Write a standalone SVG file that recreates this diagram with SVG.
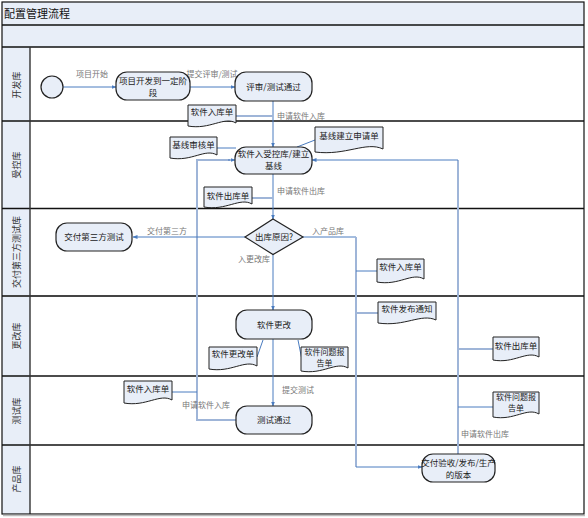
<svg xmlns="http://www.w3.org/2000/svg" width="588" height="518" viewBox="0 0 588 518">
<defs>
<marker id="arr" viewBox="0 0 10 10" refX="9" refY="5" markerWidth="5" markerHeight="5" orient="auto" markerUnits="userSpaceOnUse">
<path d="M0,1 L10,5 L0,9 Z" fill="#4a7cc0"/>
</marker>
<style>
text{font-family:"Noto Sans CJK SC","Liberation Sans",sans-serif;}
.band{fill:#e8eef8;stroke:none;}
.lane{stroke:#111;stroke-width:1.4;fill:none;}
.ln{font-size:9px;fill:#333;}
.node{fill:#e8eef8;stroke:#222;stroke-width:1.2;}
.doc{fill:#e8eef8;stroke:#222;stroke-width:1;}
.nt{font-size:8.5px;fill:#222;text-anchor:middle;}
.nt2{font-size:8px;fill:#222;text-anchor:middle;}
.el{font-size:8px;fill:#777;}
.c{fill:none;stroke:#4a7cc0;stroke-width:1;}
.cl{fill:none;stroke:#9fb5d8;stroke-width:2;}
</style>
</defs>
<rect x="0" y="0" width="588" height="518" fill="#fff"/>
<rect class="band" x="2" y="2" width="582" height="45"/>
<rect class="band" x="2" y="47" width="28" height="467"/>
<g id="frame">
<line class="lane" x1="2" y1="25" x2="584" y2="25"/>
<line class="lane" x1="2" y1="47" x2="584" y2="47"/>
<line class="lane" x1="2" y1="121" x2="584" y2="121"/>
<line class="lane" x1="2" y1="208.5" x2="584" y2="208.5"/>
<line x1="2" y1="296" x2="584" y2="296" stroke="#444" stroke-width="2.2"/>
<line class="lane" x1="2" y1="376" x2="584" y2="376"/>
<line class="lane" x1="2" y1="445" x2="584" y2="445"/>
<line x1="30" y1="47" x2="30" y2="514" stroke="#333" stroke-width="1.4"/>
<rect x="2" y="2" width="582" height="512" fill="none" stroke="#111" stroke-width="1.2"/>
<line x1="3" y1="515.5" x2="585" y2="515.5" stroke="#bbb" stroke-width="1.5"/>
<text x="4" y="18" font-size="11px" fill="#111">配置管理流程</text>
<text class="ln" transform="translate(20,85) rotate(-90)" text-anchor="middle">开发库</text>
<text class="ln" transform="translate(20,165) rotate(-90)" text-anchor="middle">受控库</text>
<text class="ln" transform="translate(20,252) rotate(-90)" text-anchor="middle">交付第三方测试库</text>
<text class="ln" transform="translate(20,336) rotate(-90)" text-anchor="middle">更改库</text>
<text class="ln" transform="translate(20,411) rotate(-90)" text-anchor="middle">测试库</text>
<text class="ln" transform="translate(20,479) rotate(-90)" text-anchor="middle">产品库</text>
</g>
<g id="connectors">
<line class="c" x1="63" y1="87" x2="116" y2="87" marker-end="url(#arr)"/>
<line class="c" x1="190" y1="87" x2="235" y2="87" marker-end="url(#arr)"/>
<line class="c" x1="273" y1="101" x2="273" y2="147" marker-end="url(#arr)"/>
<line class="cl" x1="236" y1="116" x2="273" y2="116"/>
<line class="c" x1="217" y1="148" x2="236" y2="148"/>
<line class="c" x1="297" y1="147" x2="315" y2="140"/>
<polyline class="cl" points="236,420 197,420 197,160 230,160"/>
<line class="c" x1="228" y1="160" x2="235" y2="160" marker-end="url(#arr)"/>
<line class="c" x1="172" y1="392" x2="197" y2="392"/>
<line class="c" x1="273" y1="174" x2="273" y2="219" marker-end="url(#arr)"/>
<line class="cl" x1="252" y1="198" x2="273" y2="198"/>
<line class="c" x1="245" y1="237" x2="133" y2="237" marker-end="url(#arr)"/>
<line class="c" x1="273" y1="254" x2="273" y2="310" marker-end="url(#arr)"/>
<polyline class="c" points="303,237 356,237"/>
<line class="cl" x1="356" y1="237" x2="356" y2="467"/>
<line class="c" x1="356" y1="467" x2="422" y2="467" marker-end="url(#arr)"/>
<line class="c" x1="356" y1="271" x2="377" y2="271"/>
<line class="cl" x1="356" y1="313" x2="378" y2="313"/>
<line class="cl" x1="458" y1="454" x2="458" y2="160"/>
<line class="c" x1="458" y1="160" x2="312" y2="160" marker-end="url(#arr)"/>
<line class="cl" x1="458" y1="349" x2="493" y2="349"/>
<line class="c" x1="458" y1="407" x2="493" y2="407"/>
<line class="c" x1="263" y1="340" x2="257" y2="357"/>
<line class="c" x1="298" y1="340" x2="302" y2="360"/>
<line class="c" x1="273" y1="339" x2="273" y2="406" marker-end="url(#arr)"/>
<text class="el" x="92" y="77" text-anchor="middle">项目开始</text>
<text class="el" x="212" y="77" text-anchor="middle">提交评审/测试</text>
<text class="el" x="277" y="119">申请软件入库</text>
<text class="el" x="277" y="194">申请软件出库</text>
<text class="el" x="167" y="234" text-anchor="middle">交付第三方</text>
<text class="el" x="254" y="262" text-anchor="middle">入更改库</text>
<text class="el" x="328" y="234" text-anchor="middle">入产品库</text>
<text class="el" x="282" y="393">提交测试</text>
<text class="el" x="182" y="408">申请软件入库</text>
<text class="el" x="461" y="437">申请软件出库</text>
</g>
<g id="start"><circle class="node" cx="52" cy="87" r="11"/></g>
<g id="n-dev"><rect class="node" x="116" y="72" width="74" height="28" rx="11"/><text class="nt" x="153" y="84">项目开发到一定阶</text><text class="nt" x="153" y="95.5">段</text></g>
<g id="n-review"><rect class="node" x="235" y="72" width="77" height="29" rx="11"/><text class="nt" x="273.5" y="90">评审/测试通过</text></g>
<g id="n-baseline"><rect class="node" x="235" y="147" width="77" height="27" rx="11"/><text class="nt" x="273.5" y="157">软件入受控库/建立</text><text class="nt" x="273.5" y="169">基线</text></g>
<g id="n-decision"><path class="node" d="M273,219 L303,237 L273,254.5 L245,237 Z"/><text class="nt" x="274" y="240">出库原因?</text></g>
<g id="n-third"><rect class="node" x="56" y="223" width="76" height="28" rx="11"/><text class="nt" x="94" y="240">交付第三方测试</text></g>
<g id="n-change"><rect class="node" x="236" y="310" width="76" height="29" rx="11"/><text class="nt" x="274" y="328">软件更改</text></g>
<g id="n-test"><rect class="node" x="236" y="406" width="76" height="28" rx="11"/><text class="nt" x="274" y="423">测试通过</text></g>
<g id="n-release"><rect class="node" x="422" y="454" width="73" height="28" rx="11"/><text class="nt" x="458.5" y="466">交付验收/发布/生产</text><text class="nt" x="458.5" y="477.5">的版本</text></g>
<g id="d1"><path class="doc" d="M188,105 H236 V123 C224,116 210,130 188,126 Z"/><text class="nt" x="212" y="115">软件入库单</text></g>
<g id="d2"><path class="doc" d="M170,137 H217 V155 C205,148 192,162 170,158 Z"/><text class="nt" x="193.5" y="148">基线审核单</text></g>
<g id="d3"><path class="doc" d="M315,127 H383 V149 C366,141 346,156 315,152 Z"/><text class="nt" x="349" y="139">基线建立申请单</text></g>
<g id="d4"><path class="doc" d="M204,187 H252 V204 C240,197 226,211 204,207 Z"/><text class="nt" x="228" y="199">软件出库单</text></g>
<g id="d5"><path class="doc" d="M377,259 H424 V279 C412,272 399,286 377,282 Z"/><text class="nt" x="400.5" y="270">软件入库单</text></g>
<g id="d6"><path class="doc" d="M378,302 H436 V320 C421,313 405,327 378,323 Z"/><text class="nt" x="407" y="312">软件发布通知</text></g>
<g id="d7"><path class="doc" d="M493,337 H539 V357 C527,350 514,364 493,360 Z"/><text class="nt" x="516" y="349">软件出库单</text></g>
<g id="d8"><path class="doc" d="M493,392 H539 V414 C527,407 514,421 493,417 Z"/><text class="nt2" x="516" y="399.5">软件问题报</text><text class="nt2" x="516" y="410.5">告单</text></g>
<g id="d9"><path class="doc" d="M209,347 H257 V366 C245,359 231,373 209,369 Z"/><text class="nt" x="233" y="357">软件更改单</text></g>
<g id="d10"><path class="doc" d="M301,347 H348 V368 C336,361 323,375 301,371 Z"/><text class="nt2" x="324.5" y="354.5">软件问题报</text><text class="nt2" x="324.5" y="365.5">告单</text></g>
<g id="d11"><path class="doc" d="M124,381 H172 V400 C160,393 146,407 124,403 Z"/><text class="nt" x="148" y="392">软件入库单</text></g>
</svg>
